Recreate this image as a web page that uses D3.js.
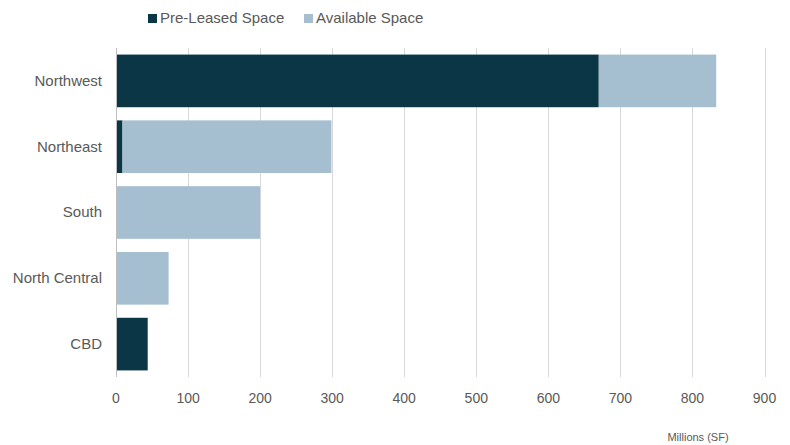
<!DOCTYPE html>
<html>
<head>
<meta charset="utf-8">
<script src="https://cdn.jsdelivr.net/npm/d3@7"></script>
<style>
  body { margin: 0; background: #fff; }
  text { font-family: "Liberation Sans", Arial, sans-serif; }
</style>
</head>
<body>
<div id="chart"></div>
<script>
// ---------------  DATA  ---------------
const regions = ["Northwest", "Northeast", "South", "North Central", "CBD"];
const preLeased = [670, 9, 0, 0, 44];
const available = [163, 290, 200, 73, 0];
const seriesNames = ["Pre-Leased Space", "Available Space"];
const seriesColors = ["#0b3646", "#a5bfd0"];
const xTicks = [0, 100, 200, 300, 400, 500, 600, 700, 800, 900];

// ---------------  INIT  ---------------
const width = 790, height = 445;
const margin = {top: 48, right: 25, bottom: 68, left: 116};

const svg = d3.select("#chart").append("svg")
  .attr("width", width)
  .attr("height", height);

const x = d3.scaleLinear().domain([0, 900]).range([margin.left, width - margin.right - 0.5]);
const y = d3.scaleBand().domain(regions).range([margin.top, height - margin.bottom]).paddingInner(0.2).paddingOuter(0.1);

// gridlines
svg.append("g")
  .selectAll("line")
  .data(xTicks)
  .enter().append("line")
  .attr("x1", d => Math.round(x(d)) + 0.5)
  .attr("x2", d => Math.round(x(d)) + 0.5)
  .attr("y1", margin.top)
  .attr("y2", height - margin.bottom)
  .attr("stroke", "#d9d9d9")
  .attr("stroke-width", 1);

// ---------------  BARS  ---------------
const rows = regions.map((r, i) => ({region: r, pre: preLeased[i], avail: available[i]}));
const stack = d3.stack().keys(["pre", "avail"])(rows);

svg.append("g")
  .selectAll("g")
  .data(stack)
  .enter().append("g")
  .attr("fill", (d, i) => seriesColors[i])
  .selectAll("rect")
  .data(d => d)
  .enter().append("rect")
  .attr("x", d => x(d[0]))
  .attr("y", d => y(d.data.region))
  .attr("width", d => x(d[1]) - x(d[0]))
  .attr("height", y.bandwidth());

// zero line
svg.append("line")
  .attr("x1", x(0) + 0.5).attr("x2", x(0) + 0.5)
  .attr("y1", margin.top).attr("y2", height - margin.bottom)
  .attr("stroke", "#bfbfbf");

// ---------------  AXES  ---------------
svg.append("g")
  .selectAll("text")
  .data(regions)
  .enter().append("text")
  .attr("x", margin.left - 14)
  .attr("y", d => y(d) + y.bandwidth() / 2 + 1)
  .attr("text-anchor", "end")
  .attr("dominant-baseline", "middle")
  .attr("font-size", 15)
  .attr("fill", "#595959")
  .text(d => d);

svg.append("g")
  .selectAll("text")
  .data(xTicks)
  .enter().append("text")
  .attr("x", d => x(d))
  .attr("y", height - margin.bottom + 22)
  .attr("text-anchor", "middle")
  .attr("dominant-baseline", "middle")
  .attr("font-size", 14)
  .attr("fill", "#595959")
  .text(d => d);

svg.append("text")
  .attr("x", 698)
  .attr("y", 438)
  .attr("text-anchor", "middle")
  .attr("dominant-baseline", "middle")
  .attr("font-size", 11)
  .attr("fill", "#595959")
  .text("Millions (SF)");

// ---------------  LEGEND  ---------------
const legX = [148, 304];
const legend = svg.append("g");
legend.selectAll("rect")
  .data(seriesNames)
  .enter().append("rect")
  .attr("x", (d, i) => legX[i])
  .attr("y", 14)
  .attr("width", 9)
  .attr("height", 9)
  .attr("fill", (d, i) => seriesColors[i]);
legend.selectAll("text")
  .data(seriesNames)
  .enter().append("text")
  .attr("x", (d, i) => legX[i] + 12)
  .attr("y", 19)
  .attr("dominant-baseline", "middle")
  .attr("font-size", 15)
  .attr("fill", "#595959")
  .text(d => d);
</script>
</body>
</html>
